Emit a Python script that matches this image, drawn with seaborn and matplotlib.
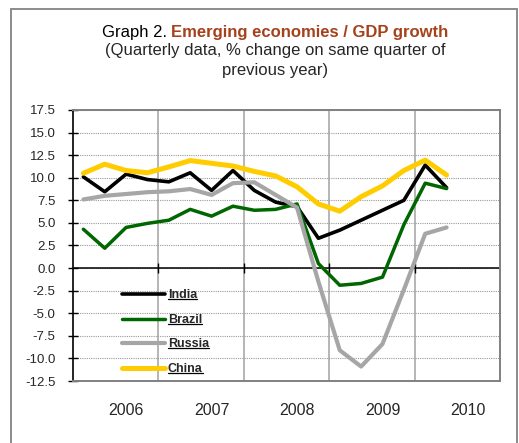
import numpy as np
import pandas as pd
import seaborn as sns
import matplotlib.pyplot as plt
from matplotlib.lines import Line2D
from matplotlib.patches import Rectangle

# Quarterly GDP growth, % change on same quarter of previous year (2006Q1 - 2010Q2)
quarters = [f'{y}Q{q}' for y in range(2006, 2011) for q in range(1, 5)][:18]
years = ['2006', '2007', '2008', '2009', '2010']

india = [10.1, 8.45, 10.4, 9.8, 9.55, 10.55, 8.6, 10.8, 8.6, 7.3, 6.8, 3.3,
         4.2, 5.3, 6.4, 7.5, 11.4, 8.9]
brazil = [4.3, 2.2, 4.5, 4.95, 5.3, 6.5, 5.75, 6.85, 6.4, 6.5, 7.1, 0.5,
          -1.9, -1.7, -1.0, 4.8, 9.4, 8.8]
russia = [7.6, 8.0, 8.2, 8.4, 8.5, 8.75, 8.1, 9.4, 9.5, 8.1, 6.7, -1.5,
          -9.1, -10.9, -8.4, -2.4, 3.8, 4.5]
china = [10.5, 11.5, 10.8, 10.55, 11.2, 11.9, 11.6, 11.3, 10.7, 10.2, 9.0, 7.1,
         6.3, 7.9, 9.1, 10.8, 11.95, 10.3]

series = {'India': india, 'Brazil': brazil, 'Russia': russia, 'China': china}
colors = {'India': '#000000', 'Brazil': '#006600', 'Russia': '#A6A6A6', 'China': '#FFCC00'}
widths = {'India': 2.6, 'Brazil': 2.5, 'Russia': 3.0, 'China': 3.6}

sns.set_theme(style='white')
plt.rcParams['font.family'] = ['Liberation Sans', 'DejaVu Sans']

fig = plt.figure(figsize=(5.19, 4.43), dpi=100)
ax = fig.add_axes([72.7 / 519, 1 - 381 / 443, (500 - 72.7) / 519, (381 - 110) / 443])

x = np.arange(len(quarters))
for name, vals in series.items():
    sns.lineplot(x=x, y=vals, ax=ax, color=colors[name], linewidth=widths[name],
                 label=name, solid_joinstyle='round', solid_capstyle='round', zorder=3)

ax.set_xlim(-0.5, 19.5)
ax.set_ylim(-12.5, 17.5)

# y axis
yt = np.arange(-12.5, 17.6, 2.5)
ax.set_yticks(yt)
ax.set_yticklabels([f'{v:.1f}' for v in yt], fontsize=9.5)
ax.tick_params(axis='y', direction='inout', length=6.5, width=1, color='black', pad=9, left=True)

# x axis: year labels, year separators
ax.set_xticks([4 * i + 2 for i in range(len(years))])
ax.set_xticklabels(years, fontsize=11.5)
ax.tick_params(axis='x', length=0, pad=16)
ax.set_xticks([3.5, 7.5, 11.5, 15.5], minor=True)
ax.tick_params(axis='x', which='minor', length=0)
ax.grid(False)
ax.grid(True, axis='y', which='major', linestyle=(0, (1, 1)), color='#9a9a9a', linewidth=0.8, zorder=0)
ax.grid(True, axis='x', which='minor', linestyle='-', color='#b0b0b0', linewidth=1.3, zorder=0)
ax.set_axisbelow(True)

ax.axhline(0, color='black', linewidth=1.1, zorder=2)
ax.vlines([3.5, 7.5, 11.5, 15.5, 19.5], -0.55, 0.55, color='black', linewidth=1, zorder=2.5)

for s in ['top', 'right', 'bottom']:
    ax.spines[s].set_color('#808080')
    ax.spines[s].set_linewidth(1.4)
ax.spines['left'].set_color('black')
ax.spines['left'].set_linewidth(1.2)
ax.set_xlabel('')
ax.set_ylabel('')

leg = ax.legend(loc='upper left', bbox_to_anchor=(0.1147, 0.338), frameon=False,
                borderpad=0, borderaxespad=0, handlelength=3.5, handletextpad=0.2,
                labelspacing=1.0, prop={'weight': 'bold', 'size': 9})

# outer frame
fig.add_artist(Rectangle((11 / 519, -0.05), (517 - 11) / 519, 1.05 - 9 / 443,
                         transform=fig.transFigure, fill=False, edgecolor='#8c8c8c', linewidth=1.4))

# title
cx = 275 / 519
t1 = fig.text(0, 1 - 36.7 / 443, 'Graph 2. ', fontsize=12, color='black', va='baseline')
t2 = fig.text(0, 1 - 36.7 / 443, 'Emerging economies / GDP growth', fontsize=12,
              fontweight='bold', color='#A5421C', va='baseline')
fig.text(cx, 1 - 55.5 / 443, '(Quarterly data, % change on same quarter of', fontsize=12,
         ha='center', va='baseline')
fig.text(cx, 1 - 74.5 / 443, 'previous year)', fontsize=12, ha='center', va='baseline')

fig.canvas.draw()
r = fig.canvas.get_renderer()
w1 = t1.get_window_extent(r).width
w2 = t2.get_window_extent(r).width
start = cx * fig.bbox.width - (w1 + w2) / 2
t1.set_x(start / fig.bbox.width)
t2.set_x((start + w1) / fig.bbox.width)

# underline legend labels
inv = fig.transFigure.inverted()
for t in leg.get_texts():
    bb = t.get_window_extent(r)
    (x0, y0), (x1, _) = inv.transform([(bb.x0, bb.y0 + 2), (bb.x1, bb.y0 + 2)])
    fig.add_artist(Line2D([x0, x1], [y0, y0], transform=fig.transFigure, color='black', linewidth=0.9))

fig.savefig('out.png', dpi=100)
